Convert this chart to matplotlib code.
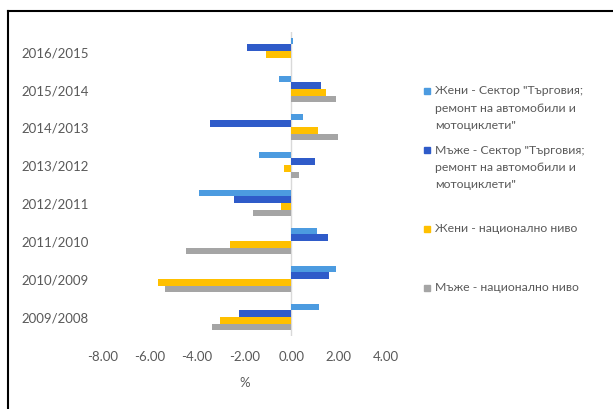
import numpy as np
import matplotlib
matplotlib.use("Agg")
from matplotlib import pyplot as plt
from matplotlib.lines import Line2D
from matplotlib.patches import Rectangle

plt.rcParams['font.family'] = ['Lato', 'Noto Sans', 'DejaVu Sans']

years = ["2009/2008", "2010/2009", "2011/2010", "2012/2011",
         "2013/2012", "2014/2013", "2015/2014", "2016/2015"]
women_sector = [1.16, 1.91, 1.11, -3.93, -1.38, 0.50, -0.54, 0.08]
men_sector = [-2.20, 1.60, 1.56, -2.43, 1.01, -3.45, 1.28, -1.87]
women_national = [-3.01, -5.67, -2.60, -0.45, -0.33, 1.13, 1.45, -1.06]
men_national = [-3.38, -5.35, -4.47, -1.63, 0.31, 1.99, 1.91, 0.0]

labels = ['Жени - Сектор "Търговия;\nремонт на автомобили и\nмотоциклети"',
          'Мъже - Сектор "Търговия;\nремонт на автомобили и\nмотоциклети"',
          'Жени - национално ниво',
          'Мъже - национално ниво']
colors = ['#4C9BE0', '#2F5BC9', '#FFC000', '#A5A5A5']
series = [women_sector, men_sector, women_national, men_national]

W, H = 613, 410
fig = plt.figure(figsize=(W / 100, H / 100), dpi=100)
ax = fig.add_axes([102.8 / W, 1 - 337 / H, (385.6 - 102.8) / W, (337 - 33) / H])

y = np.arange(len(years))
h = 0.175
offsets = [1.5, 0.5, -0.5, -1.5]
for vals, c, off in zip(series, colors, offsets):
    ax.barh(y + off * h, vals, height=h, color=c, edgecolor='none')

ax.axvline(0, color='#D9D9D9', lw=1, zorder=0)
ax.set_xlim(-8, 4)
ax.set_ylim(-0.5, len(years) - 0.5)
xt = np.arange(-8, 5, 2)
ax.set_xticks(xt)
ax.set_xticklabels([f"{v:.2f}" for v in xt])
ax.set_yticks(y)
ax.set_yticklabels(years)
ax.tick_params(axis='x', length=0, pad=10, labelsize=9.5, labelcolor='#595959')
ax.tick_params(axis='y', length=0, pad=10, labelsize=9.5, labelcolor='#595959')
for s in ax.spines.values():
    s.set_visible(False)

fig.text(245 / W, 1 - 383 / H, '%', ha='center', va='center', fontsize=9.5, color='#595959')

# legend drawn by hand
leg_y = [92, 151, 230, 289]
for lab, c, ly in zip(labels, colors, leg_y):
    fig.patches.append(Rectangle((424 / W, 1 - (ly + 3) / H), 6 / W, 6 / H,
                                 transform=fig.transFigure, color=c))
    fig.text(435 / W, 1 - (ly - 6.5) / H, lab, ha='left', va='top', fontsize=8.8,
             color='#595959', linespacing=1.7)

# frame around chart
fig.lines.append(Line2D([8 / W, 1], [1 - 12 / H, 1 - 12 / H], transform=fig.transFigure,
                        color='black', lw=1.5))
fig.lines.append(Line2D([8 / W, 8 / W], [0, 1 - 12 / H], transform=fig.transFigure,
                        color='black', lw=1.5))

fig.savefig('out.png', dpi=100)
